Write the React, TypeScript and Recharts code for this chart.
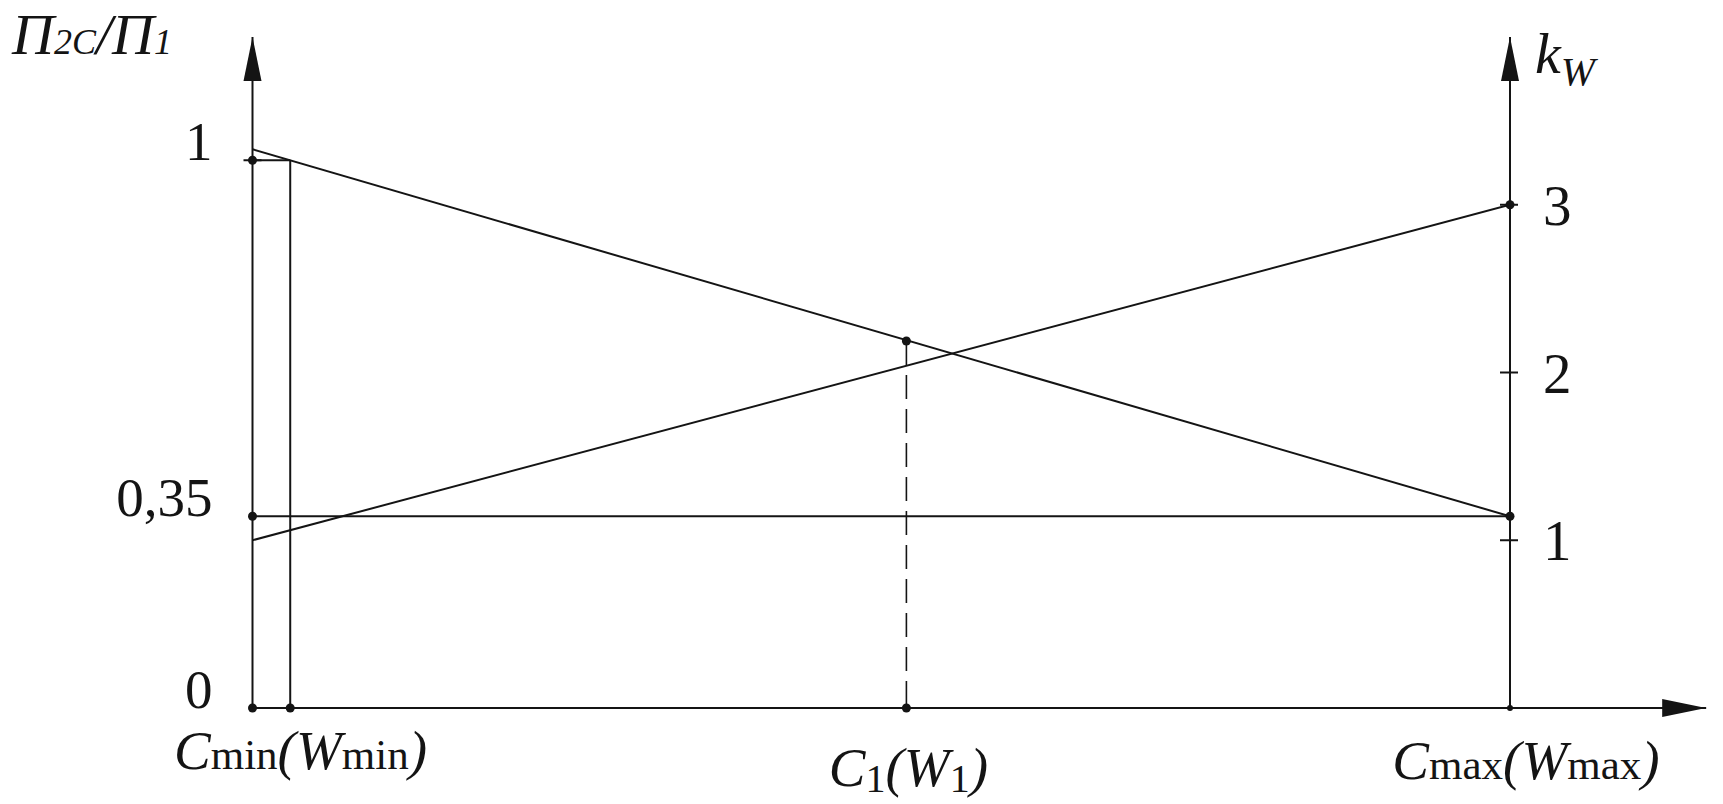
import React from "react";
import { ComposedChart, Line, XAxis, YAxis, ReferenceLine, ReferenceDot } from "recharts";

// x: relative position between C_min (0) and C_max (1)
const xTicks = [0, 0.52, 1];
const ratioTicks = [0, 0.35, 1];
const kTicks = [1, 2, 3];

// П2C/П1 falls from just above 1 down to the 0,35 floor
const ratioLine = [
  { x: 0, y: 1.02 },
  { x: 1, y: 0.35 },
];
// k_W grows from 1 to 3
const kLine = [
  { x: 0, y: 1 },
  { x: 1, y: 3 },
];
const floorLine = [
  { x: 0, y: 0.35 },
  { x: 1, y: 0.35 },
];

const wMinX = 0.03;
const c1X = 0.52;
const c1Ratio = 0.67;
const xArrowEnd = 1.156;

const ratioDots = [
  { x: 0, y: 1 },
  { x: 0, y: 0.35 },
  { x: 0, y: 0 },
  { x: wMinX, y: 0 },
  { x: c1X, y: c1Ratio },
  { x: c1X, y: 0 },
  { x: 1, y: 0.35 },
];
const kDots = [{ x: 1, y: 3 }];

const xTickLabels = [
  { main: "C", sub: "min", arg: "W" },
  { main: "C", sub: "1", arg: "W" },
  { main: "C", sub: "max", arg: "W" },
];

const INK = "#141414";
const SERIF = "'Liberation Serif', 'Times New Roman', serif";

// label centre / baseline shift per x tick
const xLabelShift = [
  { dx: 48, dy: 61 },
  { dx: 2, dy: 78 },
  { dx: 16, dy: 71 },
];

function XTick({ x, y, payload, index }: any) {
  const i = xTicks.indexOf(payload.value);
  const lab = xTickLabels[i >= 0 ? i : index];
  const shift = xLabelShift[i >= 0 ? i : index];
  const numeric = lab.sub === "1";
  const subSize = numeric ? 40 : 43;
  const subDy = numeric ? 6 : 0;
  return (
    <text
      x={x + shift.dx}
      y={y + shift.dy}
      textAnchor="middle"
      fontFamily={SERIF}
      fontSize={55}
      fill={INK}
    >
      <tspan fontStyle="italic">{lab.main}</tspan>
      <tspan fontSize={subSize} dy={subDy}>{lab.sub}</tspan>
      <tspan fontStyle="italic" dy={-subDy}>(</tspan>
      <tspan fontStyle="italic">{lab.arg}</tspan>
      <tspan fontSize={subSize} dy={subDy}>{lab.sub}</tspan>
      <tspan fontStyle="italic" dy={-subDy}>)</tspan>
    </text>
  );
}

function RatioTick({ x, y, payload }: any) {
  const v = payload.value;
  return (
    <g>
      {v === 1 && <line x1={x - 9} x2={x + 9} y1={y} y2={y} stroke={INK} strokeWidth={2} />}
      <text x={x - 40} y={y} textAnchor="end" fontFamily={SERIF} fontSize={55} fill={INK}>
        {String(v).replace(".", ",")}
      </text>
    </g>
  );
}

function KTick({ x, y, payload }: any) {
  return (
    <g>
      <line x1={x - 10} x2={x + 8} y1={y} y2={y} stroke={INK} strokeWidth={2} />
      <text x={x + 33} y={y + 20} textAnchor="start" fontFamily={SERIF} fontSize={57} fill={INK}>
        {payload.value}
      </text>
    </g>
  );
}

function RatioTitle({ viewBox }: any) {
  const vx = viewBox?.x ?? 0;
  const vy = viewBox?.y ?? 37;
  return (
    <text x={vx + 12} y={vy + 17} fontFamily={SERIF} fontStyle="italic" fill={INK} fontSize={58}>
      <tspan>П</tspan>
      <tspan fontSize={36}>2C</tspan>
      <tspan>/</tspan>
      <tspan>П</tspan>
      <tspan fontSize={36}>1</tspan>
    </text>
  );
}

function KTitle({ viewBox }: any) {
  const vx = viewBox?.x ?? 1510;
  const vy = viewBox?.y ?? 37;
  return (
    <text x={vx + 25} y={vy + 36} fontFamily={SERIF} fontStyle="italic" fill={INK} fontSize={58}>
      <tspan>k</tspan>
      <tspan fontSize={41} dy={12}>W</tspan>
    </text>
  );
}

const axisLine = { stroke: INK, strokeWidth: 2, markerStart: "url(#arrowHead)" };

export default function App() {
  return (
    <div style={{ position: "absolute", left: 0, top: 0, background: "#fff" }}>
      <ComposedChart width={1723} height={804} margin={{ top: 37, right: 0, bottom: 0, left: 0 }}>
        <defs>
          <marker
            id="arrowHead"
            viewBox="0 0 44 20"
            refX="44"
            refY="10"
            markerWidth="44"
            markerHeight="20"
            markerUnits="userSpaceOnUse"
            orient="auto-start-reverse"
          >
            <path d="M0,1 L44,10 L0,19 Z" fill={INK} />
          </marker>
        </defs>
        <XAxis
          type="number"
          dataKey="x"
          domain={[0, 1]}
          ticks={xTicks}
          interval={0}
          height={96}
          axisLine={false}
          tickLine={false}
          tickSize={0}
          tickMargin={0}
          tick={(p: any) => <XTick {...p} />}
          allowDataOverflow
        />
        <YAxis
          yAxisId="ratio"
          dataKey="y"
          type="number"
          domain={[0, 1.225]}
          ticks={ratioTicks}
          interval={0}
          width={252.5}
          axisLine={axisLine}
          tickLine={false}
          tickSize={0}
          tickMargin={0}
          tick={(p: any) => <RatioTick {...p} />}
          label={{ content: (p: any) => <RatioTitle {...p} /> }}
          allowDataOverflow
        />
        <YAxis
          yAxisId="k"
          orientation="right"
          dataKey="y"
          type="number"
          domain={[0, 4]}
          ticks={kTicks}
          interval={0}
          width={213}
          axisLine={axisLine}
          tickLine={false}
          tickSize={0}
          tickMargin={0}
          tick={(p: any) => <KTick {...p} />}
          label={{ content: (p: any) => <KTitle {...p} /> }}
          allowDataOverflow
        />

        {/* abscissa with its arrow past C_max */}
        <ReferenceLine
          yAxisId="ratio"
          segment={[
            { x: 0, y: 0 },
            { x: xArrowEnd, y: 0 },
          ]}
          stroke={INK}
          strokeWidth={2}
          markerEnd="url(#arrowHead)"
          ifOverflow="visible"
        />

        <Line yAxisId="ratio" data={floorLine} dataKey="y" stroke={INK} strokeWidth={2} dot={false} activeDot={false} isAnimationActive={false} />
        <Line yAxisId="ratio" data={ratioLine} dataKey="y" stroke={INK} strokeWidth={2} dot={false} activeDot={false} isAnimationActive={false} />
        <Line yAxisId="k" data={kLine} dataKey="y" stroke={INK} strokeWidth={2} dot={false} activeDot={false} isAnimationActive={false} />

        {/* W_min step and the C_1 drop */}
        <ReferenceLine
          yAxisId="ratio"
          segment={[
            { x: 0, y: 1 },
            { x: wMinX, y: 1 },
          ]}
          stroke={INK}
          strokeWidth={2}
        />
        <ReferenceLine
          yAxisId="ratio"
          segment={[
            { x: wMinX, y: 1 },
            { x: wMinX, y: 0 },
          ]}
          stroke={INK}
          strokeWidth={2}
        />
        <ReferenceLine
          yAxisId="ratio"
          segment={[
            { x: c1X, y: c1Ratio },
            { x: c1X, y: 0 },
          ]}
          stroke={INK}
          strokeWidth={1.6}
          strokeDasharray="24 10"
        />

        {ratioDots.map((d, i) => (
          <ReferenceDot key={`r-${i}`} yAxisId="ratio" x={d.x} y={d.y} r={4.5} fill={INK} stroke="none" ifOverflow="visible" />
        ))}
        {kDots.map((d, i) => (
          <ReferenceDot key={`k-${i}`} yAxisId="k" x={d.x} y={d.y} r={4.5} fill={INK} stroke="none" ifOverflow="visible" />
        ))}
        <ReferenceDot yAxisId="k" x={1} y={0} r={3} fill={INK} stroke="none" ifOverflow="visible" />
      </ComposedChart>
    </div>
  );
}
